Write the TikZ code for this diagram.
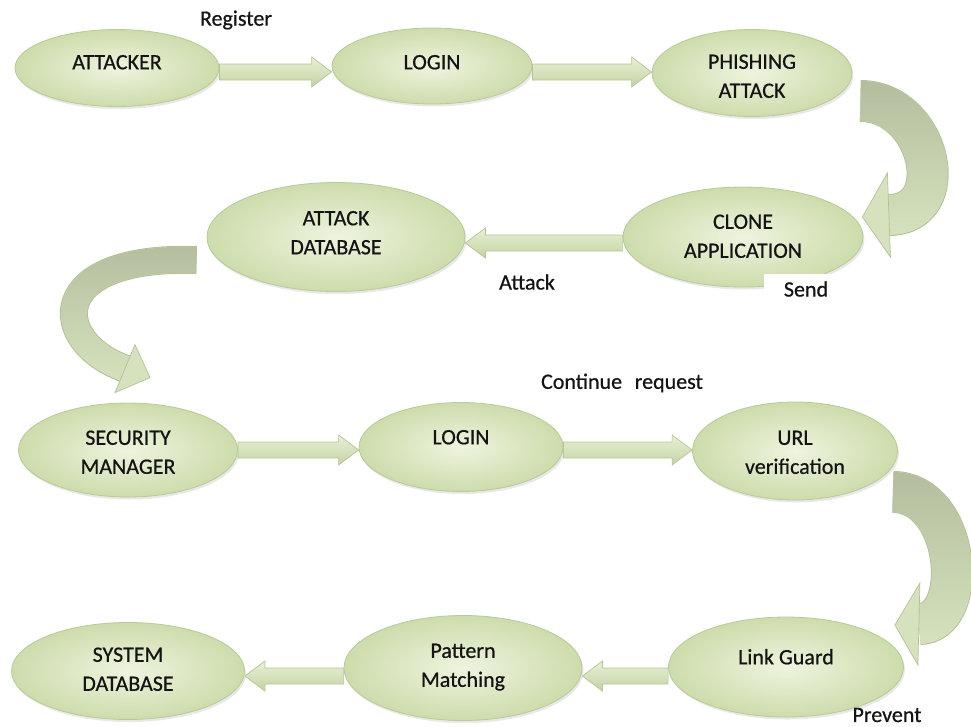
\documentclass[tikz,border=0pt]{standalone}
\usepackage{fontspec}
\setmainfont{Carlito}[FakeBold=0.6]
\usetikzlibrary{calc,shapes.geometric,shadows,fadings}
\definecolor{ellin}{RGB}{238,244,222}
\definecolor{ellout}{RGB}{205,220,172}
\definecolor{ellrim}{RGB}{186,201,152}
\definecolor{arrlite}{RGB}{232,239,214}
\definecolor{arrfill}{RGB}{214,226,188}
\definecolor{arrdark}{RGB}{196,210,166}
\definecolor{arrrim}{RGB}{182,197,150}
\definecolor{ribbon}{RGB}{214,226,190}
\definecolor{ribbondark}{RGB}{180,190,158}
\definecolor{ribbonrim}{RGB}{180,193,150}
\definecolor{txt}{RGB}{20,20,20}
\newcommand{\bt}[2]{\raisebox{#1pt}{\begin{tabular}{@{}c@{}}#2\end{tabular}}}
\begin{document}
\begin{tikzpicture}[x=1pt,y=-1pt,
  bubble/.style={ellipse, shading=radial, inner color=ellin, outer color=ellout,
    draw=ellrim, line width=0.8pt, text height=0pt, text depth=0pt, inner sep=0pt,
    font=\fontsize{22}{29}\selectfont, text=txt,
    drop shadow={opacity=0.18, shadow xshift=1.5pt, shadow yshift=-2.5pt}},
  lbl/.style={font=\fontsize{22}{29}\selectfont, text=txt, inner sep=0pt},
  flat/.style={top color=arrlite, bottom color=arrdark, middle color=arrfill,
    draw=arrrim, line width=0.7pt, line join=miter},
  blockright/.style={to path={($(\tikztostart)+(0,-8)$) -- ($(\tikztotarget)+(-20,-8)$)
    -- ($(\tikztotarget)+(-20,-15)$) -- (\tikztotarget) -- ($(\tikztotarget)+(-20,15)$)
    -- ($(\tikztotarget)+(-20,8)$) -- ($(\tikztostart)+(0,8)$) -- cycle}},
  blockleft/.style={to path={($(\tikztostart)+(0,-8)$) -- ($(\tikztotarget)+(20,-8)$)
    -- ($(\tikztotarget)+(20,-15)$) -- (\tikztotarget) -- ($(\tikztotarget)+(20,15)$)
    -- ($(\tikztotarget)+(20,8)$) -- ($(\tikztostart)+(0,8)$) -- cycle}},
  shade/.style={ribbondark, path fading=south},
  headfill/.style={fill=ribbon, draw=ribbonrim, line width=0.7pt, line join=miter}
]
\fill[white] (0,0) rectangle (971,726);
\useasboundingbox (0,0) rectangle (971,726);

% nodes
\node[bubble, minimum width=204pt, minimum height=77pt] (attacker) at (117,68) {\bt{-0.7}{ATTACKER}};
\node[bubble, minimum width=200pt, minimum height=76pt] (login1) at (432,66) {\bt{-2.7}{LOGIN}};
\node[bubble, minimum width=200pt, minimum height=87pt] (phish) at (752,73) {\bt{-9.7}{PHISHING\\ATTACK}};
\node[bubble, minimum width=240pt, minimum height=100pt] (clone) at (743,237) {\bt{-5.7}{CLONE\\APPLICATION}};
\node[bubble, minimum width=258pt, minimum height=109pt] (attackdb) at (336,237) {\bt{-2.2}{ATTACK\\DATABASE}};
\node[bubble, minimum width=219pt, minimum height=94pt] (secmgr) at (128,450) {\bt{-8.7}{SECURITY\\MANAGER}};
\node[bubble, minimum width=204pt, minimum height=89pt] (login2) at (461,447) {\bt{3.3}{LOGIN}};
\node[bubble, minimum width=205pt, minimum height=98pt] (url) at (795,451) {\bt{-7.7}{URL\\verification}};
\node[bubble, minimum width=233pt, minimum height=97pt] (sysdb) at (128,671) {\bt{-4.7}{SYSTEM\\DATABASE}};
\node[bubble, minimum width=238pt, minimum height=105pt] (pattern) at (463,668) {\bt{-3.7}{Pattern\\Matching}};
\node[bubble, minimum width=235pt, minimum height=100pt] (linkguard) at (786,667) {\bt{3.3}{Link Guard}};

% straight block arrows
\coordinate (a1s) at ([yshift=-4pt]attacker.east);
\coordinate (a1e) at (a1s -| login1.west);
\path[flat] (a1s) to[blockright] (a1e);
\coordinate (a2s) at ([yshift=-6pt]login1.east);
\coordinate (a2e) at (a2s -| phish.west);
\path[flat] (a2s) to[blockright] (a2e);
\coordinate (a3s) at ([yshift=-6pt]clone.west);
\coordinate (a3e) at (a3s -| attackdb.east);
\path[flat] (a3s) to[blockleft] (a3e);
\coordinate (a4s) at (secmgr.east);
\coordinate (a4e) at (a4s -| login2.west);
\path[flat] (a4s) to[blockright] (a4e);
\coordinate (a5s) at ([yshift=-3pt]login2.east);
\coordinate (a5e) at (a5s -| url.west);
\path[flat] (a5s) to[blockright] (a5e);
\coordinate (a6s) at ([yshift=-9pt]linkguard.west);
\coordinate (a6e) at (a6s -| pattern.east);
\path[flat] (a6s) to[blockleft] (a6e);
\coordinate (a7s) at ([yshift=-8pt]pattern.west);
\coordinate (a7e) at (a7s -| sysdb.east);
\path[flat] (a7s) to[blockleft] (a7e);

% curved arrow 1: phishing -> clone
\coordinate (c1s) at ($(phish.east)+(8,28)$);
\coordinate (c1t) at ($(clone.east)+(-1,-20)$);
\coordinate (c1b) at ($(c1t)+(26,-2)$);
\draw[ribbonrim, line width=42pt] (c1s) .. controls +(70,0) and +(67,0) .. (c1b);
\draw[ribbon, line width=40pt] (c1s) .. controls +(70,0) and +(67,0) .. (c1b);
\draw[shade, line width=40pt] (c1s) .. controls +(70,0) and +(67,0) .. (c1b);
\path[headfill] (c1t) -- ($(c1t)+(25,-44)$) -- ($(c1t)+(28,40)$) -- cycle;

% curved arrow 2: attack database -> security manager
\coordinate (c2s) at ($(attackdb.west)+(-10,23)$);
\coordinate (c2t) at ($(secmgr.north)+(22,-25)$);
\coordinate (c2b) at ($(c2t)+(-25,-9)$);
\draw[ribbonrim, line width=28pt] (c2s) .. controls +(-152,-5) and +(-75,-27) .. (c2b);
\draw[ribbon, line width=26pt] (c2s) .. controls +(-152,-5) and +(-75,-27) .. (c2b);
\draw[shade, line width=26pt] (c2s) .. controls +(-152,-5) and +(-75,-27) .. (c2b);
\path[headfill] (c2t) -- ($(c2t)+(-15,-33)$) -- ($(c2t)+(-35,15)$) -- cycle;

% curved arrow 3: url -> link guard
\coordinate (c3s) at ($(url.east)+(-5,41)$);
\coordinate (c3t) at ($(linkguard.east)+(-9,-42)$);
\coordinate (c3b) at ($(c3t)+(24,-1)$);
\draw[ribbonrim, line width=42pt] (c3s) .. controls +(68,0) and +(52,0) .. (c3b);
\draw[ribbon, line width=40pt] (c3s) .. controls +(68,0) and +(52,0) .. (c3b);
\draw[shade, line width=40pt] (c3s) .. controls +(68,0) and +(52,0) .. (c3b);
\path[headfill] (c3t) -- ($(c3t)+(25,-42)$) -- ($(c3t)+(23,40)$) -- cycle;

% labels
\node[lbl] (register) at (236,20) {Register};
\node[lbl] (attack) at (527,282) {Attack};
\node[lbl, fill=white, inner xsep=20pt, inner ysep=7pt] (send) at (806,289) {Send};
\node[lbl] (cont) at (622,383) {Continue\hspace{0.35em} request};
\node[lbl] (prevent) at (887,715) {Prevent};
\end{tikzpicture}
\end{document}
